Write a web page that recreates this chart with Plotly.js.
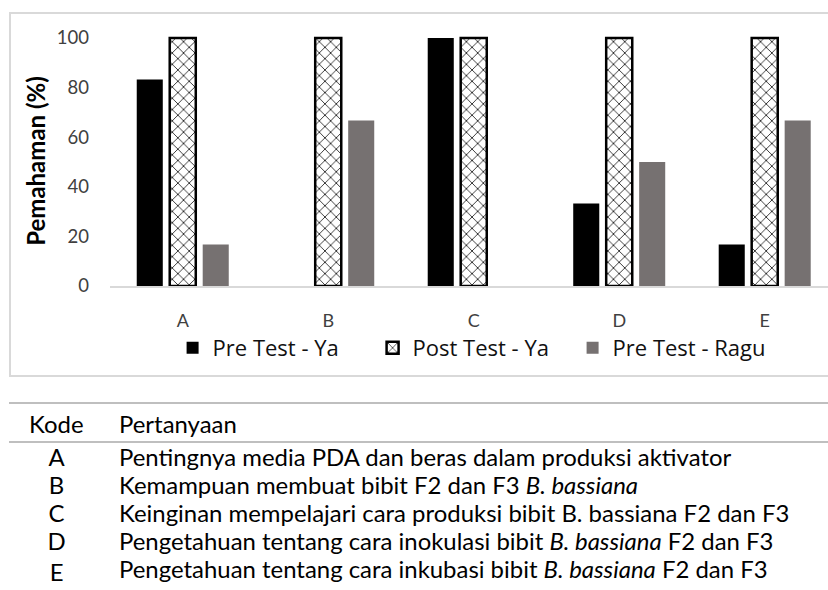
<!DOCTYPE html>
<html>
<head>
<meta charset="utf-8">
<script src="https://cdn.plot.ly/plotly-3.0.1.min.js"></script>
<style>
  html, body { margin:0; padding:0; background:#fff; width:828px; height:590px; overflow:hidden; }
  #chart { position:absolute; left:0; top:0; width:828px; height:380px; }
  #box { position:absolute; left:9px; top:12px; width:840px; height:361px; border:2px solid #d9d9d9; pointer-events:none; }
  .hline { position:absolute; left:9px; width:819px; height:2px; background:#bfbfbf; }
  .t { position:absolute; font-family:Lato, sans-serif; font-size:23px; line-height:28px; color:#000; white-space:nowrap; transform:scaleX(1.04); transform-origin:0 50%; }
  .code { width:53px; left:29px; text-align:center; }
  .q { left:119px; }
</style>
</head>
<body>
<div id="chart"></div>
<div id="box"></div>
<div id="table"></div>
<script>
// ---- data ----
const categories = ['A', 'B', 'C', 'D', 'E'];
const preTestYa = [83.3, 0, 100, 33.3, 16.7];
const postTestYa = [100, 100, 100, 100, 100];
const preTestRagu = [16.7, 66.7, 0, 50, 66.7];
const seriesNames = ['Pre Test - Ya', 'Post Test - Ya', 'Pre Test - Ragu'];
const yTicks = [0, 20, 40, 60, 80, 100];
const tableHeader = ['Kode', 'Pertanyaan'];
const questions = [
  'Pentingnya media PDA dan beras dalam produksi aktivator',
  'Kemampuan membuat bibit F2 dan F3 <i>B. bassiana</i>',
  'Keinginan mempelajari cara produksi bibit B. bassiana F2 dan F3',
  'Pengetahuan tentang cara inokulasi bibit <i>B. bassiana</i> F2 dan F3',
  'Pengetahuan tentang cara inkubasi bibit <i>B. bassiana</i> F2 dan F3'
];

const traces = [
  { type:'bar', name:seriesNames[0], x:categories, y:preTestYa,
    marker:{ color:'#000000', line:{ width:0 } } },
  { type:'bar', name:seriesNames[1], x:categories, y:postTestYa,
    marker:{ color:'#ffffff', line:{ color:'#000000', width:2.5 },
      pattern:{ shape:'x', fgcolor:'#000000', bgcolor:'#ffffff', size:8, solidity:0.18, fillmode:'replace' } } },
  { type:'bar', name:seriesNames[2], x:categories, y:preTestRagu,
    marker:{ color:'#767171', line:{ width:0 } } }
];

const layout = {
  width:828, height:380,
  margin:{ l:110, r:0, t:36, b:94 },
  paper_bgcolor:'rgba(0,0,0,0)', plot_bgcolor:'rgba(0,0,0,0)',
  barmode:'group', bargap:0.32, bargroupgap:0.21,
  showlegend:true,
  font:{ family:'Lato, sans-serif', color:'#404040' },
  xaxis:{ type:'category', categoryorder:'array', categoryarray:categories,
    range:[-0.5, 4.435], showline:true, linecolor:'#d9d9d9', linewidth:2,
    ticks:'', showgrid:false, zeroline:false, ticklabelstandoff:17,
    tickfont:{ family:'Lato, sans-serif', size:18, color:'#404040' }, fixedrange:true },
  yaxis:{ range:[0, 100.8], tickvals:yTicks, ticktext:yTicks.map(String),
    showline:false, showgrid:false, zeroline:false, ticks:'', ticklabelstandoff:20,
    tickfont:{ family:'Lato, sans-serif', size:18.5, color:'#404040' },
    title:{ text:'<b>Pemahaman (%)</b>', font:{ family:'Lato, sans-serif', size:24, color:'#000' }, standoff:4 },
    fixedrange:true },
  legend:{ orientation:'h', x:0.505, xanchor:'center', y:-0.248, yanchor:'middle',
    entrywidth:155, entrywidthmode:'pixels',
    font:{ family:'"Open Sans", sans-serif', size:22, color:'#111' }, traceorder:'normal' }
};

Plotly.newPlot('chart', traces, layout, { displayModeBar:false, staticPlot:true });

// ---- table ----
const tbl = document.getElementById('table');
function add(html, cls, top) {
  const d = document.createElement('div');
  d.className = 't ' + cls;
  d.style.top = top + 'px';
  d.innerHTML = html;
  tbl.appendChild(d);
}
const l1 = document.createElement('div'); l1.className = 'hline'; l1.style.top = '402px'; tbl.appendChild(l1);
const l2 = document.createElement('div'); l2.className = 'hline'; l2.style.top = '441px'; tbl.appendChild(l2);
add(tableHeader[0], '', 409.5); tbl.lastChild.style.left = '29px';
add(tableHeader[1], 'q', 409.5);
categories.forEach((c, i) => {
  const top = 442.5 + i * 28;
  add(c, 'code', top + (i === 4 ? 3 : 0));
  add(questions[i], 'q', top);
});
</script>
</body>
</html>
